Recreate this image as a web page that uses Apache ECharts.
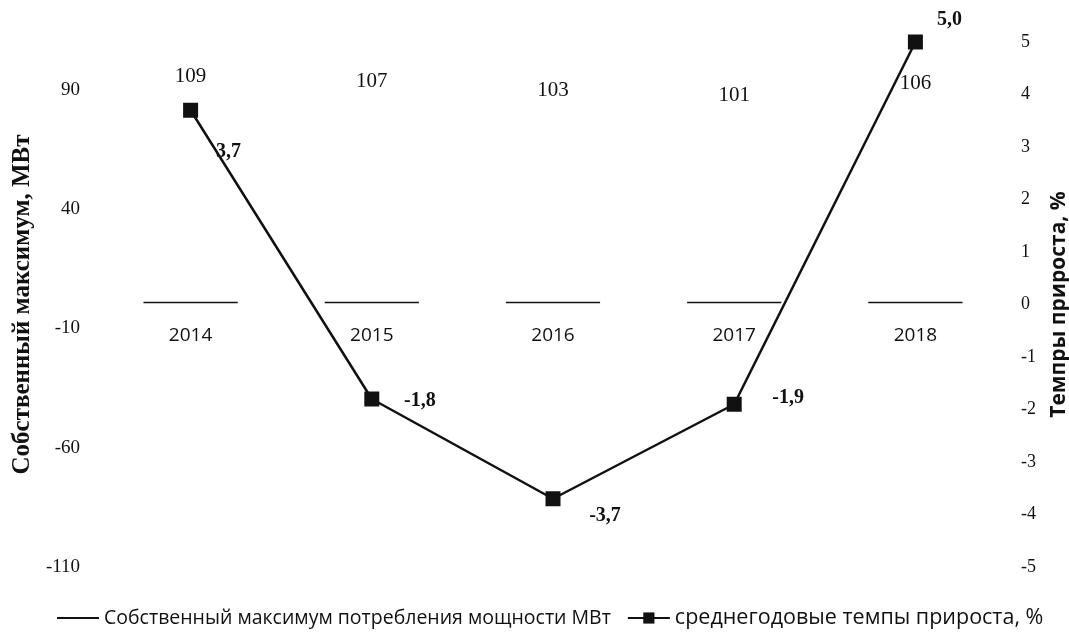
<!DOCTYPE html>
<html>
<head>
<meta charset="utf-8">
<script src="https://cdn.jsdelivr.net/npm/echarts@6/dist/echarts.min.js"></script>
<style>
  html, body { margin: 0; padding: 0; background: #fff; }
  #chart { width: 1069px; height: 635px; }
</style>
</head>
<body>
<div id="chart"></div>
<script>
// данные графика
const years = ["2014", "2015", "2016", "2017", "2018"];
const maxPower = [109, 107, 103, 101, 106];      // Собственный максимум, МВт
const growthRate = [3.7, -1.8, -3.7, -1.9, 5.0]; // темпы прироста, %
const leftTicks = { min: -110, max: 110, interval: 50 };
const rightTicks = { min: -5, max: 5, interval: 1 };

const seriesNames = [
  "Собственный максимум потребления мощности МВт",
  "среднегодовые темпы прироста, %"
];

// смещения подписей точек линии
const lineLabelOffsets = [[38, 42], [48, 2], [52, 17], [54, -6], [34, -22]];

const serif = "'Liberation Serif', 'DejaVu Serif', serif";
const sans = "'Open Sans', 'Liberation Sans', sans-serif";

const chart = echarts.init(document.getElementById("chart"));

const option = {
  backgroundColor: "#fff",
  animation: false,
  grid: { left: 100, right: 63, top: 42, bottom: 68, outerBoundsMode: "none" },
  legend: {
    bottom: 1,
    left: 52,
    itemWidth: 42,
    itemHeight: 14,
    itemGap: 16,
    textStyle: { fontFamily: sans, fontSize: 19.5, color: "#111" },
    data: [
      { name: seriesNames[0], icon: "path://M0,0 H40 V2 H0 Z" },
      { name: seriesNames[1], textStyle: { fontSize: 21.5 } }
    ]
  },
  xAxis: {
    type: "category",
    data: years,
    axisLine: { show: false },
    axisTick: { show: false },
    // подписи годов рисуются у нулевой линии в custom-серии
    axisLabel: { show: false },
    splitLine: { show: false }
  },
  yAxis: [
    {
      type: "value",
      min: leftTicks.min,
      max: leftTicks.max,
      interval: leftTicks.interval,
      name: "Собственный максимум, МВт",
      nameLocation: "middle",
      nameRotate: 90,
      nameGap: 62,
      nameTextStyle: { fontFamily: serif, fontWeight: "bold", fontSize: 25, color: "#111" },
      axisLine: { show: false },
      axisTick: { show: false },
      splitLine: { show: false },
      axisLabel: { fontFamily: serif, fontSize: 19, color: "#111", margin: 20, showMaxLabel: false }
    },
    {
      type: "value",
      min: rightTicks.min,
      max: rightTicks.max,
      interval: rightTicks.interval,
      name: "Темпры прироста, %",
      nameLocation: "middle",
      nameRotate: 90,
      nameGap: 43,
      nameTextStyle: { fontFamily: sans, fontWeight: "bold", fontSize: 21, color: "#111" },
      axisLine: { show: false },
      axisTick: { show: false },
      splitLine: { show: false },
      axisLabel: { fontFamily: serif, fontSize: 18, color: "#111", margin: 15 }
    }
  ],
  series: [
    {
      name: seriesNames[0],
      type: "custom",
      yAxisIndex: 0,
      itemStyle: { color: "#111" },
      encode: { x: 0, y: 1 },
      data: maxPower.map((v, i) => [i, v]),
      renderItem: function (params, api) {
        const idx = api.value(0);
        const val = api.value(1);
        const base = api.coord([idx, 0]);
        const top = api.coord([idx, val]);
        const w = api.size([1, 0])[0] * 0.52;
        return {
          type: "group",
          children: [
            {
              type: "line",
              shape: { x1: base[0] - w / 2, y1: base[1] - 2, x2: base[0] + w / 2, y2: base[1] - 2 },
              style: { stroke: "#111", lineWidth: 1.5 }
            },
            {
              type: "text",
              x: top[0],
              y: top[1] + 32,
              style: {
                text: String(val),
                font: "21px " + serif,
                fill: "#111",
                align: "center",
                verticalAlign: "middle"
              }
            },
            {
              type: "text",
              x: base[0],
              y: base[1] + 31,
              style: {
                text: years[idx],
                font: "19px " + sans,
                fill: "#111",
                align: "center",
                verticalAlign: "middle"
              }
            }
          ]
        };
      }
    },
    {
      name: seriesNames[1],
      type: "line",
      yAxisIndex: 1,
      data: growthRate.map((v, i) => ({
        value: v,
        label: { offset: lineLabelOffsets[i] }
      })),
      symbol: "rect",
      symbolSize: 15,
      lineStyle: { color: "#111", width: 2.5 },
      itemStyle: { color: "#111" },
      label: {
        show: true,
        position: "inside",
        fontFamily: serif,
        fontWeight: "bold",
        fontSize: 20,
        color: "#111",
        formatter: (p) => p.value.toFixed(1).replace(".", ",")
      }
    }
  ]
};

chart.setOption(option);
</script>
</body>
</html>
